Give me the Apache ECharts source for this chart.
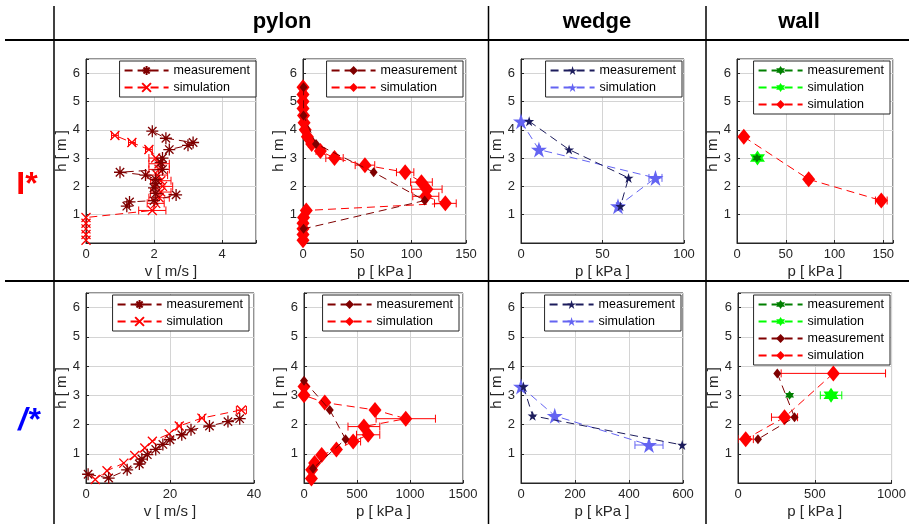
<!DOCTYPE html>
<html><head><meta charset="utf-8">
<script src="https://cdn.jsdelivr.net/npm/echarts@6.0.0/dist/echarts.min.js"></script>
<style>html,body{margin:0;padding:0;background:#fff}#c{width:909px;height:524px}</style>
</head><body><div id="c"></div><script>
// ---------------- DATA ----------------
const colTitles = ['pylon', 'wedge', 'wall'];
const rowTitles = ['I*', '/*'];
const legendLabels = ['measurement', 'simulation'];

// Row I*, pylon, velocity
const p1MeasH = [1.3,1.45,1.5,1.7,1.75,1.95,2.1,2.25,2.4,2.5,2.6,2.85,3.0,3.3,3.45,3.55,3.7,3.95];
const p1MeasV = [1.2,1.28,2.0,2.65,2.05,2.0,2.05,2.05,1.75,1.0,2.25,2.2,2.25,2.45,3.0,3.15,2.35,1.95];
const p1SimH = [0.1,0.3,0.5,0.7,0.9,1.15,1.4,1.6,1.8,2.0,2.2,2.4,2.6,2.8,3.0,3.3,3.55,3.8];
const p1SimV = [0,0,0,0,0,1.95,2.05,2.15,2.2,2.25,2.2,2.1,2.15,2.15,2.05,1.85,1.35,0.85];
const p1SimErr = [0,0,0,0,0,0.4,0.25,0.3,0.3,0.3,0.3,0.3,0.3,0.3,0.2,0.1,0.1,0.1];

// Row I*, pylon, pressure
const p2MeasH = [5.5,4.5,3.5,2.5,1.5,0.5];
const p2MeasP = [0.5,0.5,12,65,112,0.5];
const p2SimH = [0.1,0.3,0.5,0.7,0.9,1.15,1.4,1.65,1.9,2.15,2.5,2.75,3.0,3.25,3.5,3.75,4.0,4.25,4.5,4.75,5.0,5.25,5.5];
const p2SimP = [0,0,0,0,0.5,3,131,113,114,109,94,57,29,16,8,4,2,1,0.5,0,0,0,0];
const p2SimErr = [0,0,0,0,0,0,10,12,14,10,8,9,8,4,3,2,1,0,0,0,0,0,0];

// Row I*, wedge
const p3MeasH = [4.3,3.3,2.3,1.3];
const p3MeasP = [5,29.5,66,61];
const p3SimH = [4.3,3.3,2.3,1.3];
const p3SimP = [0,11,82.5,59.5];
const p3SimErr = [0,1,4,1];

// Row I*, wall
const p4GMeasH = [3.0];
const p4GMeasP = [20.5];
const p4GSimH = [3.0];
const p4GSimP = [21];
const p4GSimErr = [2];
const p4RSimH = [3.75,2.25,1.5];
const p4RSimP = [7,73.5,148];
const p4RSimErr = [1.5,3,6];

// Row /*, pylon, velocity
const p5MeasH = [0.3,0.17,0.45,0.65,0.82,0.97,1.15,1.32,1.48,1.65,1.82,1.95,2.1,2.2];
const p5MeasV = [0.5,5.4,9.8,12.7,13.3,14.6,16.6,18.3,20.0,22.8,25.0,29.4,33.8,36.6];
const p5SimH = [0.12,0.42,0.68,0.94,1.2,1.43,1.68,1.95,2.22,2.5];
const p5SimV = [2.2,5,9,11.6,14,15.8,19.8,22.2,27.6,37];
const p5SimErr = [0,0,0,0,0,0,0,0.5,0.6,1.2];

// Row /*, pylon, pressure
const p6MeasH = [3.5,2.5,1.5,0.5];
const p6MeasP = [0,243,392,85];
const p6SimH = [0.15,0.45,0.68,0.96,1.15,1.42,1.65,1.93,2.2,2.5,2.75,3.0,3.3];
const p6SimP = [70,72,100,167,306,464,605,565,960,670,196,0,0];
const p6SimErr = [0,0,0,0,0,70,110,150,280,0,0,0,0];

// Row /*, wedge
const p7MeasH = [3.3,2.3,1.3];
const p7MeasP = [9,43,597];
const p7SimH = [3.3,2.3,1.3];
const p7SimP = [0,125,474];
const p7SimErr = [0,0,52];

// Row /*, wall
const p8GMeasH = [3.0];
const p8GMeasP = [336];
const p8GSimH = [3.0];
const p8GSimP = [606];
const p8GSimErr = [70];
const p8RMeasH = [3.75,2.25,1.5];
const p8RMeasP = [256,368,130];
const p8RSimH = [3.75,2.25,1.5];
const p8RSimP = [621,303,50];
const p8RSimErr = [340,85,50];

// ---------------- STYLE ----------------
const C = {
  darkRed: '#7f0000', red: '#ff0000', navy: '#1c1c5c', blue: '#6464f2',
  dGreen: '#007f00', green: '#00ff00', axis: '#262626', grid: '#d4d4d4'
};
const SYM = {
  ast: 'path://M0,-1L0,1M-1,0L1,0M-0.7,-0.7L0.7,0.7M-0.7,0.7L0.7,-0.7',
  x: 'path://M-1,-1L1,1M-1,1L1,-1',
  star: 'path://M0,-1L0.2245,-0.309L0.951,-0.309L0.363,0.118L0.588,0.809L0,0.382L-0.588,0.809L-0.363,0.118L-0.951,-0.309L-0.2245,-0.309Z',
  hex: 'path://M0,-1L0.289,-0.5L0.866,-0.5L0.577,0L0.866,0.5L0.289,0.5L0,1L-0.289,0.5L-0.866,0.5L-0.577,0L-0.866,-0.5L-0.289,-0.5Z',
  dia: 'diamond'
};
const FONT = '"Liberation Sans", Arial, Helvetica, sans-serif';

function lineS(gi, name, xs, ys, color, symbol, size, stroke, z) {
  return {
    type: 'line', name, xAxisIndex: gi, yAxisIndex: gi,
    data: xs.map((x, i) => [x, ys[i]]),
    symbol, symbolSize: size, showSymbol: true, animation: false,
    lineStyle: { color, width: 1, type: [8, 5] },
    itemStyle: { color: stroke ? 'rgba(0,0,0,0)' : color, borderColor: color, borderWidth: stroke ? 1.3 : 0 },
    z, clip: true
  };
}
function errS(gi, xs, ys, errs, color, z) {
  const data = [];
  xs.forEach((x, i) => { if (errs[i] > 0) data.push([x - errs[i], x + errs[i], ys[i]]); });
  return {
    type: 'custom', coordinateSystem: 'cartesian2d', xAxisIndex: gi, yAxisIndex: gi,
    data, silent: true, animation: false, z, clip: true,
    encode: { x: [0, 1], y: 2 },
    renderItem(params, api) {
      const lo = api.coord([api.value(0), api.value(2)]);
      const hi = api.coord([api.value(1), api.value(2)]);
      const cap = 4, st = { stroke: color, lineWidth: 1 };
      return { type: 'group', children: [
        { type: 'line', shape: { x1: lo[0], y1: lo[1], x2: hi[0], y2: hi[1] }, style: st },
        { type: 'line', shape: { x1: lo[0], y1: lo[1] - cap, x2: lo[0], y2: lo[1] + cap }, style: st },
        { type: 'line', shape: { x1: hi[0], y1: hi[1] - cap, x2: hi[0], y2: hi[1] + cap }, style: st }
      ]};
    }
  };
}

const panels = [
  { rect: [86, 59, 170, 184], xMax: 5, xInt: 2, xName: 'v [ m/s ]', lg: [653, 61],
    build: g => [
      errS(g, p1SimV, p1SimH, p1SimErr, C.red, 2),
      lineS(g, 'simulation|1', p1SimV, p1SimH, C.red, SYM.x, 9, true, 3),
      lineS(g, 'measurement|1', p1MeasV, p1MeasH, C.darkRed, SYM.ast, 12, true, 4)
    ], names: ['measurement|1', 'simulation|1'] },
  { rect: [303, 59, 163, 184], xMax: 150, xInt: 50, xName: 'p [ kPa ]', lg: [446, 61],
    build: g => [
      errS(g, p2SimP, p2SimH, p2SimErr, C.red, 2),
      lineS(g, 'simulation|2', p2SimP, p2SimH, C.red, SYM.dia, [13, 16], false, 3),
      lineS(g, 'measurement|2', p2MeasP, p2MeasH, C.darkRed, SYM.dia, [8, 10], false, 4)
    ], names: ['measurement|2', 'simulation|2'] },
  { rect: [521, 59, 163, 184], xMax: 100, xInt: 50, xName: 'p [ kPa ]', lg: [227, 61],
    build: g => [
      errS(g, p3SimP, p3SimH, p3SimErr, C.blue, 2),
      lineS(g, 'simulation|3', p3SimP, p3SimH, C.blue, SYM.star, 16, false, 3),
      lineS(g, 'measurement|3', p3MeasP, p3MeasH, C.navy, SYM.star, 10, false, 4)
    ], names: ['measurement|3', 'simulation|3'] },
  { rect: [737, 59, 156, 184], xMax: 160, xInt: 50, xName: 'p [ kPa ]', lg: [19, 61],
    build: g => [
      errS(g, p4RSimP, p4RSimH, p4RSimErr, C.red, 2),
      errS(g, p4GSimP, p4GSimH, p4GSimErr, C.green, 2),
      lineS(g, 'simulation|4r', p4RSimP, p4RSimH, C.red, SYM.dia, [13, 16], false, 3),
      lineS(g, 'simulation|4g', p4GSimP, p4GSimH, C.green, SYM.hex, 15, false, 3),
      lineS(g, 'measurement|4g', p4GMeasP, p4GMeasH, C.dGreen, SYM.hex, 9, false, 4)
    ], names: ['measurement|4g', 'simulation|4g', 'simulation|4r'] },
  { rect: [86, 293, 168, 190], xMax: 40, xInt: 20, xName: 'v [ m/s ]', lg: [660, 295],
    build: g => [
      errS(g, p5SimV, p5SimH, p5SimErr, C.red, 2),
      lineS(g, 'simulation|5', p5SimV, p5SimH, C.red, SYM.x, 9, true, 3),
      lineS(g, 'measurement|5', p5MeasV, p5MeasH, C.darkRed, SYM.ast, 12, true, 4)
    ], names: ['measurement|5', 'simulation|5'] },
  { rect: [304, 293, 159, 190], xMax: 1500, xInt: 500, xName: 'p [ kPa ]', lg: [450, 295],
    build: g => [
      errS(g, p6SimP, p6SimH, p6SimErr, C.red, 2),
      lineS(g, 'simulation|6', p6SimP, p6SimH, C.red, SYM.dia, [13, 16], false, 3),
      lineS(g, 'measurement|6', p6MeasP, p6MeasH, C.darkRed, SYM.dia, [8, 10], false, 4)
    ], names: ['measurement|6', 'simulation|6'] },
  { rect: [521, 293, 162, 190], xMax: 600, xInt: 200, xName: 'p [ kPa ]', lg: [228, 295],
    build: g => [
      errS(g, p7SimP, p7SimH, p7SimErr, C.blue, 2),
      lineS(g, 'simulation|7', p7SimP, p7SimH, C.blue, SYM.star, 16, false, 3),
      lineS(g, 'measurement|7', p7MeasP, p7MeasH, C.navy, SYM.star, 10, false, 4)
    ], names: ['measurement|7', 'simulation|7'] },
  { rect: [738, 293, 154, 190], xMax: 1000, xInt: 500, xName: 'p [ kPa ]', lg: [19, 295],
    build: g => [
      errS(g, p8RSimP, p8RSimH, p8RSimErr, C.red, 2),
      errS(g, p8GSimP, p8GSimH, p8GSimErr, C.green, 2),
      lineS(g, 'simulation|8r', p8RSimP, p8RSimH, C.red, SYM.dia, [13, 16], false, 3),
      lineS(g, 'simulation|8g', p8GSimP, p8GSimH, C.green, SYM.hex, 15, false, 3),
      lineS(g, 'measurement|8r', p8RMeasP, p8RMeasH, C.darkRed, SYM.dia, [8, 10], false, 4),
      lineS(g, 'measurement|8g', p8GMeasP, p8GMeasH, C.dGreen, SYM.hex, 9, false, 4)
    ], names: ['measurement|8g', 'simulation|8g', 'measurement|8r', 'simulation|8r'] }
];

const grids = [], xAxes = [], yAxes = [], legends = [], series = [];
panels.forEach((p, g) => {
  grids.push({ left: p.rect[0], top: p.rect[1], width: p.rect[2], height: p.rect[3],
    show: true, borderColor: C.axis, borderWidth: 1, backgroundColor: '#fff', containLabel: false });
  xAxes.push({ type: 'value', gridIndex: g, min: 0, max: p.xMax, interval: p.xInt,
    axisLine: { show: true, onZero: false, lineStyle: { color: C.axis } },
    axisTick: { show: true, inside: true, length: 3, lineStyle: { color: C.axis } },
    axisLabel: { color: C.axis, fontSize: 13, margin: 5, fontFamily: FONT, showMaxLabel: true,
      formatter: v => (Math.abs(v / p.xInt - Math.round(v / p.xInt)) < 1e-6 ? String(v) : '') },
    splitLine: { show: true, lineStyle: { color: C.grid } },
    name: p.xName, nameLocation: 'middle', nameGap: 21,
    nameTextStyle: { color: C.axis, fontSize: 15, fontFamily: FONT } });
  yAxes.push({ type: 'value', gridIndex: g, min: 0, max: 6.5, interval: 1,
    axisLine: { show: true, onZero: false, lineStyle: { color: C.axis } },
    axisTick: { show: true, inside: true, length: 3, lineStyle: { color: C.axis } },
    axisLabel: { color: C.axis, fontSize: 13, margin: 6, fontFamily: FONT,
      formatter: v => (v > 0 && Math.abs(v - Math.round(v)) < 1e-6 ? String(v) : '') },
    splitLine: { show: true, lineStyle: { color: C.grid } },
    name: 'h [ m ]', nameLocation: 'middle', nameGap: 17,
    nameTextStyle: { color: C.axis, fontSize: 15, fontFamily: FONT } });
  legends.push({ show: true, orient: 'vertical', right: p.lg[0], top: p.lg[1],
    data: p.names, selectedMode: false,
    formatter: n => n.split('|')[0],
    backgroundColor: '#fff', borderColor: C.axis, borderWidth: 1,
    padding: [3, 6, 3, 4], itemGap: 4, itemWidth: 44, itemHeight: 11,
    textStyle: { color: '#000', fontSize: 12.5, fontFamily: FONT } });
  p.build(g).forEach(s => series.push(s));
});

const graphic = [
  { type: 'line', shape: { x1: 5, y1: 40, x2: 909, y2: 40 }, style: { stroke: '#000', lineWidth: 2 } },
  { type: 'line', shape: { x1: 5, y1: 281, x2: 909, y2: 281 }, style: { stroke: '#000', lineWidth: 2 } },
  { type: 'line', shape: { x1: 54, y1: 6, x2: 54, y2: 524 }, style: { stroke: '#000', lineWidth: 1.5 } },
  { type: 'line', shape: { x1: 488.5, y1: 6, x2: 488.5, y2: 524 }, style: { stroke: '#000', lineWidth: 1.5 } },
  { type: 'line', shape: { x1: 706, y1: 6, x2: 706, y2: 524 }, style: { stroke: '#000', lineWidth: 1.5 } },
  { type: 'text', x: 282, y: 22, style: { text: colTitles[0], fontSize: 22, fontWeight: 'bold', fontFamily: FONT, fill: '#000', align: 'center', verticalAlign: 'middle' } },
  { type: 'text', x: 597, y: 22, style: { text: colTitles[1], fontSize: 22, fontWeight: 'bold', fontFamily: FONT, fill: '#000', align: 'center', verticalAlign: 'middle' } },
  { type: 'text', x: 799, y: 22, style: { text: colTitles[2], fontSize: 22, fontWeight: 'bold', fontFamily: FONT, fill: '#000', align: 'center', verticalAlign: 'middle' } },
  { type: 'text', x: 27, y: 185, style: { text: rowTitles[0], fontSize: 32, fontWeight: 'bold', fontFamily: FONT, fill: '#ff0000', align: 'center', verticalAlign: 'middle' } },
  { type: 'text', x: 29, y: 421, style: { text: rowTitles[1], fontSize: 32, fontWeight: 'bold', fontStyle: 'italic', fontFamily: FONT, fill: '#0000ff', align: 'center', verticalAlign: 'middle' } }
];

const chart = echarts.init(document.getElementById('c'), null, { renderer: 'canvas' });
chart.setOption({
  animation: false, backgroundColor: '#fff',
  textStyle: { fontFamily: FONT },
  grid: grids, xAxis: xAxes, yAxis: yAxes, legend: legends, series, graphic
});
</script></body></html>
